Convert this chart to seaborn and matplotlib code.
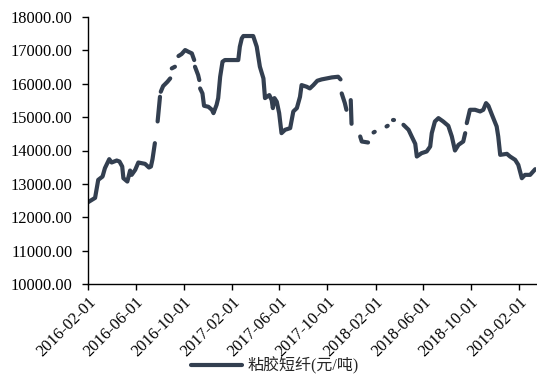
import numpy as np
import pandas as pd
import matplotlib
matplotlib.use("Agg")
import matplotlib.pyplot as plt
from matplotlib.lines import Line2D
from matplotlib.ticker import FormatStrFormatter
import seaborn as sns

# Viscose staple fibre price, yuan per tonne (None = no quote, breaks the line)
dates = [
    "2016-02-01", "2016-02-19", "2016-02-27", "2016-03-09", "2016-03-15", "2016-03-26",
    "2016-04-01", "2016-04-14", "2016-04-21", "2016-04-28", "2016-05-01", "2016-05-11",
    "2016-05-18", "2016-05-22", "2016-05-31", "2016-06-08", "2016-06-25", "2016-07-05",
    "2016-07-10", "2016-07-14", "2016-07-20", "2016-07-24",
    "2016-07-27", "2016-08-02", "2016-08-03",
    "2016-08-04", "2016-08-10", "2016-08-21", "2016-08-28", "2016-08-30",
    "2016-09-01", "2016-09-09", "2016-09-14",
    "2016-09-18", "2016-09-26", "2016-10-05", "2016-10-13", "2016-10-22", "2016-10-28", "2016-10-29",
    "2016-10-30", "2016-11-07", "2016-11-10", "2016-11-11",
    "2016-11-12", "2016-11-18", "2016-11-22", "2016-12-03", "2016-12-12", "2016-12-16",
    "2016-12-24", "2016-12-28", "2017-01-02", "2017-01-08", "2017-01-14", "2017-02-17",
    "2017-02-21", "2017-02-26", "2017-03-02", "2017-03-27", "2017-04-05", "2017-04-13",
    "2017-04-22", "2017-04-26", "2017-05-07", "2017-05-13", "2017-05-16", "2017-05-20",
    "2017-05-26", "2017-06-01", "2017-06-05", "2017-06-07", "2017-06-16", "2017-06-29",
    "2017-07-03", "2017-07-07", "2017-07-16", "2017-07-24", "2017-07-28", "2017-08-10",
    "2017-08-18", "2017-08-27", "2017-09-06", "2017-09-17", "2017-09-30", "2017-10-13",
    "2017-10-29", "2017-11-04", "2017-11-05",
    "2017-11-07", "2017-11-15", "2017-11-19", "2017-11-22",
    "2017-11-30", "2017-12-02", "2017-12-10",
    "2017-12-24", "2017-12-28", "2018-01-13", "2018-01-20",
    "2018-01-27", "2018-01-30", "2018-02-05",
    "2018-03-01", "2018-03-04", "2018-03-10",
    "2018-03-17", "2018-03-20", "2018-03-25",
    "2018-04-13", "2018-04-26", "2018-05-04", "2018-05-13", "2018-05-17", "2018-05-29",
    "2018-06-11", "2018-06-20", "2018-06-24", "2018-07-02", "2018-07-11", "2018-07-23",
    "2018-08-05", "2018-08-14", "2018-08-22", "2018-08-31", "2018-09-12", "2018-09-17",
    "2018-09-19",
    "2018-09-21", "2018-09-29", "2018-10-12", "2018-10-25", "2018-11-02", "2018-11-09",
    "2018-11-15", "2018-11-24", "2018-12-06", "2018-12-10", "2018-12-15", "2019-01-01",
    "2019-01-09", "2019-01-22", "2019-01-30", "2019-02-08", "2019-02-16", "2019-03-01",
    "2019-03-14",
]
prices = [
    12450, 12580, 13120, 13220, 13470, 13740,
    13640, 13700, 13670, 13520, 13170, 13070,
    13400, 13270, 13420, 13640, 13600, 13490,
    13520, 13740, 14220, None,
    14870, 15610, None,
    15760, 15930, 16060, 16160, None,
    16460, 16510, None,
    16830, 16890, 17010, 16960, 16910, 16710, None,
    16510, 16260, 16110, None,
    15860, 15710, 15340, 15310, 15220, 15120,
    15370, 15570, 16210, 16660, 16710, 16710,
    17110, 17360, 17430, 17430, 17110, 16510,
    16160, 15570, 15660, 15510, 15270, 15570,
    15460, 15120, 14720, 14520, 14620, 14670,
    14920, 15170, 15270, 15610, 15960, 15910,
    15860, 15960, 16090, 16130, 16160, 16190,
    16210, 16130, None,
    15710, 15420, 15220, None,
    15510, 14800, None,
    14420, 14270, 14240, None,
    14540, 14560, None,
    14720, 14740, None,
    14920, 14920, None,
    14770, 14620, 14420, 14200, 13820, 13920,
    13970, 14120, 14520, 14870, 14970, 14870,
    14740, 14420, 14000, 14170, 14270, 14520,
    None,
    14820, 15220, 15220, 15170, 15220, 15420,
    15340, 15070, 14720, 14420, 13870, 13900,
    13820, 13720, 13570, 13170, 13270, 13270,
    13440,
]
series_name = "粘胶短纤(元/吨)"
tick_dates = ["2016-02-01", "2016-06-01", "2016-10-01", "2017-02-01", "2017-06-01",
              "2017-10-01", "2018-02-01", "2018-06-01", "2018-10-01", "2019-02-01"]
y_ticks = [10000, 11000, 12000, 13000, 14000, 15000, 16000, 17000, 18000]

LINE_COLOR = "#333f50"

sns.set_style("ticks")
plt.rcParams["font.family"] = ["Liberation Serif", "Noto Sans CJK SC"]
plt.rcParams["path.simplify"] = False

df = pd.DataFrame({"date": pd.to_datetime(dates),
                   "price": pd.array(prices, dtype="Float64").astype(float)})
# each run of quotes between missing values becomes its own line piece
df["seg"] = df["price"].isna().cumsum()
df = df.dropna(subset=["price"])

fig = plt.figure(figsize=(5.37, 3.76), dpi=100)
ax = fig.add_axes([88 / 537, 1 - 284 / 376, (536 - 88) / 537, (284 - 17) / 376])

sns.lineplot(data=df, x="date", y="price", units="seg", estimator=None,
             color=LINE_COLOR, lw=3, solid_capstyle="round", ax=ax, legend=False)

ax.set_xlim(pd.Timestamp("2016-02-01"), pd.Timestamp("2019-03-16"))
ax.set_ylim(10000, 18000)
ax.set_xticks(pd.to_datetime(tick_dates))
ax.set_xticklabels(tick_dates, rotation=45, ha="right", rotation_mode="anchor")
ax.set_yticks(y_ticks)
ax.yaxis.set_major_formatter(FormatStrFormatter("%.2f"))
ax.set_xlabel("")
ax.set_ylabel("")

sns.despine(ax=ax)
for side in ("left", "bottom"):
    ax.spines[side].set_color("black")
    ax.spines[side].set_linewidth(1.0)
ax.tick_params(axis="both", direction="out", length=4, width=1, color="black",
               labelsize=11.8, labelcolor="black")
ax.tick_params(axis="x", pad=3)
ax.tick_params(axis="y", pad=7)

handle = Line2D([0], [0], color=LINE_COLOR, lw=3, solid_capstyle="round")
fig.legend(handles=[handle], labels=[series_name], loc="lower center",
           bbox_to_anchor=(0.512, -0.035), frameon=False, handlelength=3.2,
           handletextpad=0.3, fontsize=11.5)

fig.savefig("out.png", dpi=100)
